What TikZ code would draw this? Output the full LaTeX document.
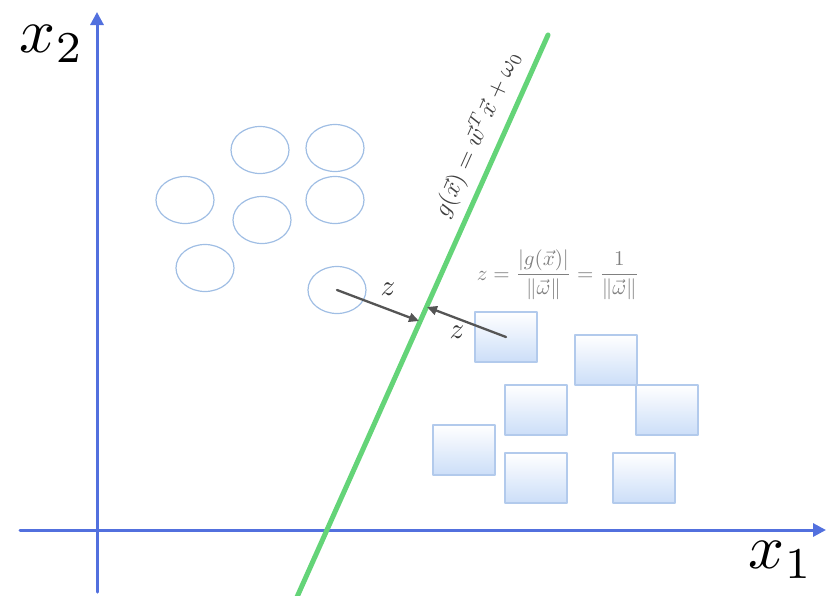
\documentclass[tikz,border=0pt]{standalone}
\usetikzlibrary{arrows.meta,shapes.geometric}
\definecolor{axisblue}{RGB}{82,112,222}
\definecolor{planegreen}{RGB}{100,212,120}
\definecolor{ringblue}{RGB}{160,190,228}
\definecolor{boxedge}{RGB}{178,202,236}
\definecolor{boxfill}{RGB}{204,222,248}
\definecolor{pullgray}{RGB}{85,85,85}

\begin{document}
\begin{tikzpicture}[x=1pt, y=-1pt, line cap=round, line join=round,
  axis/.style={draw=axisblue, line width=3pt, -{Triangle[length=13pt,width=13pt]}},
  ring/.style={ellipse, draw=ringblue, line width=1.2pt, minimum width=58pt, minimum height=47pt, inner sep=0pt},
  tile/.style={rectangle, draw=boxedge, line width=1.2pt, top color=white, bottom color=boxfill, minimum width=62pt, minimum height=50pt, inner sep=0pt},
  pull/.style={draw=pullgray, line width=2.3pt, -{Triangle[length=10pt,width=9pt]}}]
  \useasboundingbox (0,0) rectangle (829,595);
  % axes
  \coordinate (O) at (97,530);
  \draw[axis] (97,592) -- (97,12);
  \draw[axis] (20,530) -- (826,530);
  \node[scale=6.3] (lx2) at (52,44) {$x_2$};
  \node[scale=6.3] (lx1) at (781,560) {$x_1$};
  % separating hyperplane
  \coordinate (hb) at (297,597);
  \coordinate (ht) at (548,35);
  \draw[planegreen, line width=5pt] (hb) -- (ht);
  \node[rotate=65.9, scale=2.4, text=black!75] (geq) at (477,134) {$g(\vec{x})=\vec{w}^T\vec{x}+\omega_0$};
  % class 1: rings
  \foreach \n/\p in {1/{260,150}, 2/{335,148}, 3/{185,200}, 4/{262,220}, 5/{335,200}, 6/{205,268}, 7/{337,290}}
    { \node[ring] (c\n) at (\p) {}; }
  % class 2: tiles
  \foreach \n/\p in {1/{506,337}, 2/{606,360}, 3/{536,410}, 4/{667,410}, 5/{464,450}, 6/{536,478}, 7/{644,478}}
    { \node[tile] (s\n) at (\p) {}; }
  % margin arrows
  \coordinate (f1) at (419,321);
  \coordinate (f2) at (427,307);
  \draw[pull] (c7.center) -- (f1);
  \draw[pull] (s1.center) -- (f2);
  \node[scale=2.9, text=black!80] (z1) at (388,289) {$z$};
  \node[scale=2.9, text=black!80] (z2) at (457,332) {$z$};
  \node[scale=2.1, text=black!50] (zeq) at (558,275) {$\displaystyle z=\frac{|g(\vec{x})|}{\|\vec{\omega}\|}=\frac{1}{\|\vec{\omega}\|}$};
\end{tikzpicture}
\end{document}
